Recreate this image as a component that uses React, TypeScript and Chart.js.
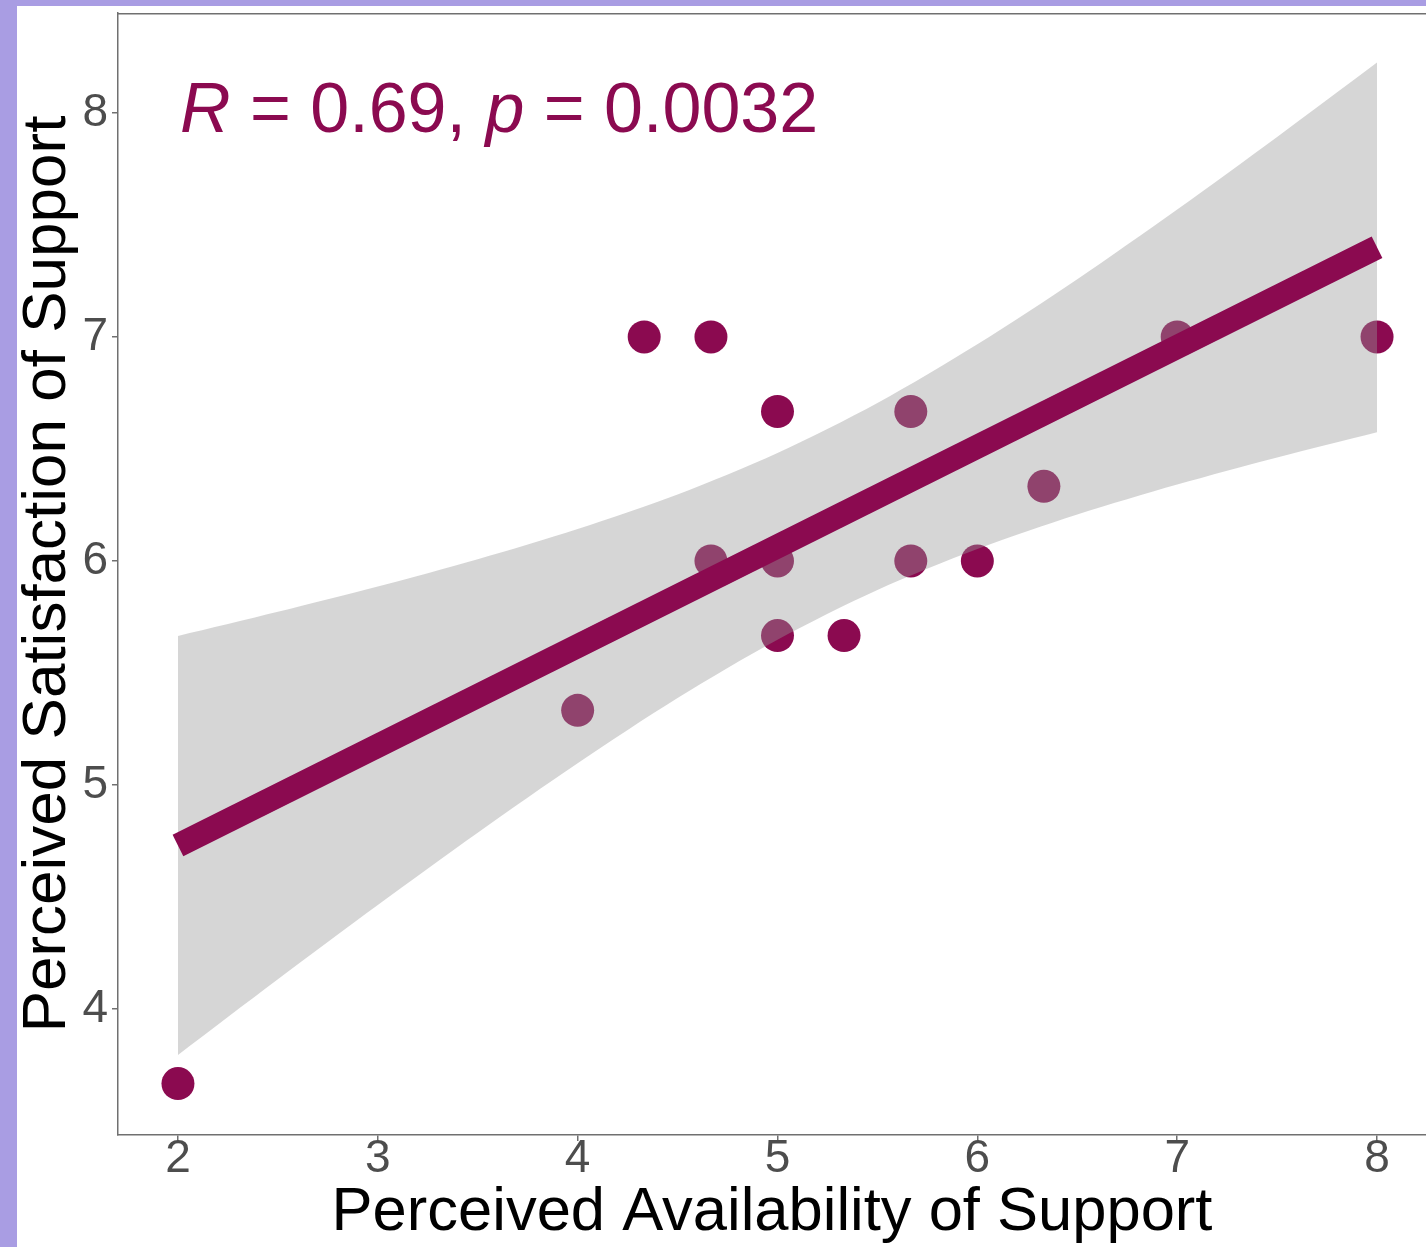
import React, { useEffect, useRef } from "react";
import { Chart, registerables } from "chart.js";

Chart.register(...registerables);

// ---- data ----
const xValues = [2, 4, 4.333, 4.667, 4.667, 5, 5, 5, 5.333, 5.667, 5.667, 6, 6.333, 7, 8];
const yValues = [3.667, 5.333, 7, 7, 6, 6.667, 6, 5.667, 5.667, 6.667, 6, 6, 6.333, 7, 7];

const fitX = [2, 8];
const fitY = [4.73, 7.4];

const bandX = [2, 2.5, 3, 3.5, 4, 4.5, 5, 5.5, 6, 6.5, 7, 7.5, 8];
const bandUpper = [5.665, 5.773, 5.886, 6.008, 6.143, 6.297, 6.482, 6.705, 6.967, 7.258, 7.569, 7.893, 8.225];
const bandLower = [3.795, 4.133, 4.464, 4.787, 5.097, 5.388, 5.648, 5.87, 6.053, 6.207, 6.341, 6.462, 6.575];

const xTicks = [2, 3, 4, 5, 6, 7, 8];
const yTicks = [4, 5, 6, 7, 8];
const xRange = [1.7, 8.245];
const yRange = [3.4375, 8.446];

const xTitle = "Perceived Availability of Support";
const yTitle = "Perceived Satisfaction of Support";
const statR = "0.69";
const statP = "0.0032";
const statPos = [2.01, 7.915];

const FONT = '"Liberation Sans", Arial, Helvetica, sans-serif';
const MAROON = "#8B0A50";
const AXIS = "#707070";

const annotPlugin = {
  id: "annot",
  afterDatasetsDraw(chart: any) {
    const { ctx, chartArea, scales } = chart;
    ctx.save();
    ctx.strokeStyle = AXIS;
    ctx.lineWidth = 1.5;
    ctx.beginPath();
    ctx.moveTo(chartArea.left, chartArea.top + 0.75);
    ctx.lineTo(chartArea.right, chartArea.top + 0.75);
    ctx.stroke();

    const x0 = scales.x.getPixelForValue(statPos[0]);
    const y0 = scales.y.getPixelForValue(statPos[1]);
    const parts: [string, boolean][] = [
      ["R", true],
      [" = " + statR + ", ", false],
      ["p", true],
      [" = " + statP, false],
    ];
    ctx.fillStyle = MAROON;
    ctx.textBaseline = "alphabetic";
    ctx.textAlign = "left";
    let cx = x0;
    for (const [t, it] of parts) {
      ctx.font = `${it ? "italic " : ""}70px ${FONT}`;
      ctx.fillText(t, cx, y0);
      cx += ctx.measureText(t).width;
    }
    ctx.restore();
  },
};

const zeroPad = (s: any) => {
  s.paddingTop = 0;
  s.paddingBottom = 0;
  s.paddingLeft = 0;
  s.paddingRight = 0;
};

export default function App() {
  const ref = useRef<HTMLCanvasElement | null>(null);

  useEffect(() => {
    if (!ref.current) return;
    const chart = new Chart(ref.current, {
      type: "scatter",
      data: {
        datasets: [
          {
            type: "line",
            label: "fit",
            data: fitX.map((x, i) => ({ x, y: fitY[i] })),
            borderColor: MAROON,
            borderWidth: 24,
            borderCapStyle: "butt",
            pointRadius: 0,
            fill: false,
            order: 0,
          } as any,
          {
            type: "line",
            label: "upper",
            data: bandX.map((x, i) => ({ x, y: bandUpper[i] })),
            borderWidth: 0,
            borderColor: "rgba(0,0,0,0)",
            backgroundColor: "rgba(153,153,153,0.4)",
            pointRadius: 0,
            fill: "+1",
            tension: 0.3,
            order: 1,
          } as any,
          {
            type: "line",
            label: "lower",
            data: bandX.map((x, i) => ({ x, y: bandLower[i] })),
            borderWidth: 0,
            borderColor: "rgba(0,0,0,0)",
            pointRadius: 0,
            fill: false,
            tension: 0.3,
            order: 1,
          } as any,
          {
            type: "scatter",
            label: "points",
            data: xValues.map((x, i) => ({ x, y: yValues[i] })),
            backgroundColor: MAROON,
            borderWidth: 0,
            pointRadius: 16.5,
            pointHoverRadius: 16.5,
            order: 2,
          } as any,
        ],
      },
      options: {
        animation: false,
        responsive: false,
        devicePixelRatio: 1,
        layout: { autoPadding: false, padding: { top: 7, left: 0, right: 0, bottom: 0 } },
        plugins: {
          legend: { display: false },
          tooltip: { enabled: false },
        },
        scales: {
          x: {
            type: "linear",
            min: xRange[0],
            max: xRange[1],
            afterBuildTicks: (s: any) => {
              s.ticks = xTicks.map((v) => ({ value: v }));
            },
            afterFit: (s: any) => {
              s.height = 112;
              zeroPad(s);
            },
            grid: {
              display: true,
              drawOnChartArea: false,
              drawTicks: true,
              tickLength: 6,
              color: AXIS,
              lineWidth: 1.5,
            },
            border: { display: true, color: AXIS, width: 1.5 },
            ticks: {
              color: "#4d4d4d",
              font: { size: 46, family: FONT, lineHeight: 0.8 },
              padding: 0,
              maxRotation: 0,
              autoSkip: false,
              includeBounds: false,
            },
            title: {
              display: true,
              text: xTitle,
              color: "#000",
              font: { size: 61.5, family: FONT, lineHeight: 1 },
              padding: { top: 0, bottom: 3 },
            },
          },
          y: {
            type: "linear",
            min: yRange[0],
            max: yRange[1],
            afterBuildTicks: (s: any) => {
              s.ticks = yTicks.map((v) => ({ value: v }));
            },
            afterFit: (s: any) => {
              s.width = 101;
              zeroPad(s);
            },
            grid: {
              display: true,
              drawOnChartArea: false,
              drawTicks: true,
              tickLength: 6,
              color: AXIS,
              lineWidth: 1.5,
            },
            border: { display: true, color: AXIS, width: 1.5 },
            ticks: {
              color: "#4d4d4d",
              font: { size: 46, family: FONT, lineHeight: 1 },
              padding: 4,
              autoSkip: false,
              includeBounds: false,
            },
            title: {
              display: true,
              text: yTitle,
              color: "#000",
              font: { size: 62, family: FONT, lineHeight: 1 },
              padding: { top: 0, bottom: 0 },
            },
          },
        },
      },
      plugins: [annotPlugin],
    } as any);
    return () => chart.destroy();
  }, []);

  return (
    <div
      style={{
        position: "fixed",
        left: 0,
        top: 0,
        width: 1426,
        height: 1247,
        background: "#A99DE3",
        overflow: "hidden",
      }}
    >
      <canvas
        ref={ref}
        width={1409}
        height={1241}
        style={{
          position: "absolute",
          left: 17,
          top: 6,
          width: 1409,
          height: 1241,
          background: "#ffffff",
        }}
      />
    </div>
  );
}
